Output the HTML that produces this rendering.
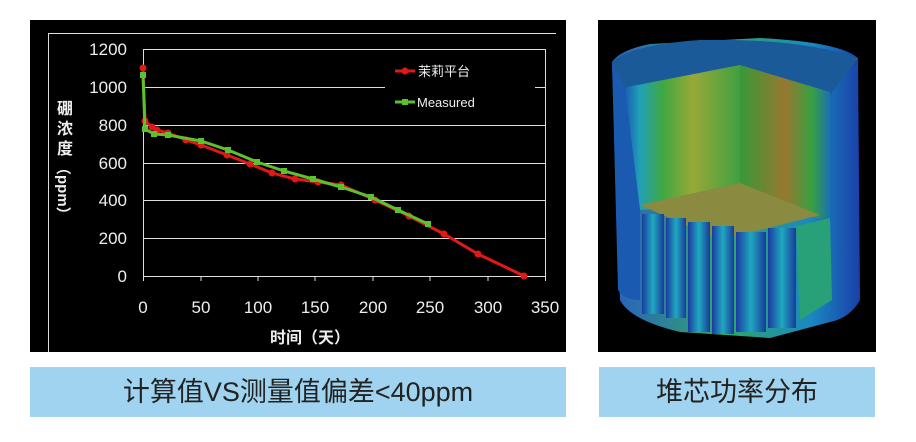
<!DOCTYPE html>
<html><head><meta charset="utf-8"><style>
body{margin:0;width:916px;height:442px;background:#fff;overflow:hidden;font-family:"Liberation Sans","Noto Sans CJK SC",sans-serif;}
.cap{position:absolute;top:367px;height:50px;background:#9fd3ef;color:#222;font-size:27px;line-height:50px;text-align:center;font-family:"Liberation Sans","Noto Sans CJK SC",sans-serif;}
</style></head><body>
<svg width="916" height="442" style="position:absolute;left:0;top:0" font-family="Liberation Sans, Noto Sans CJK SC, sans-serif">
<defs>
<linearGradient id="side" x1="0" x2="1"><stop offset="0" stop-color="#1a50b0"/><stop offset="0.15" stop-color="#20a0b8"/><stop offset="0.35" stop-color="#40a840"/><stop offset="0.6" stop-color="#98a838"/><stop offset="1" stop-color="#40a040"/></linearGradient>
<linearGradient id="back" x1="0" x2="1"><stop offset="0" stop-color="#389838"/><stop offset="0.5" stop-color="#987830"/><stop offset="0.8" stop-color="#38a040"/><stop offset="1" stop-color="#1a70b0"/></linearGradient>
<linearGradient id="right" x1="0" x2="1"><stop offset="0" stop-color="#2a60c0"/><stop offset="0.45" stop-color="#30a868"/><stop offset="0.8" stop-color="#1a88c0"/><stop offset="1" stop-color="#1a40a8"/></linearGradient>
<linearGradient id="col" x1="0" x2="1"><stop offset="0" stop-color="#1a3aa0"/><stop offset="0.5" stop-color="#20a8c0"/><stop offset="1" stop-color="#1a3a98"/></linearGradient>
</defs>
<rect x="30" y="20" width="536" height="332" fill="#000"/>
<line x1="48" y1="33.5" x2="556" y2="33.5" stroke="#ddd" stroke-width="1"/>
<line x1="48.5" y1="33" x2="48.5" y2="352" stroke="#ddd" stroke-width="1"/>
<g stroke="#ddd" stroke-width="1">
<line x1="143" y1="49.5" x2="545" y2="49.5"/>
<line x1="143" y1="87.5" x2="545" y2="87.5"/>
<line x1="143" y1="125.5" x2="545" y2="125.5"/>
<line x1="143" y1="163.5" x2="545" y2="163.5"/>
<line x1="143" y1="200.5" x2="545" y2="200.5"/>
<line x1="143" y1="238.5" x2="545" y2="238.5"/>
<line x1="143" y1="276.5" x2="545" y2="276.5"/>
<line x1="143.5" y1="49" x2="143.5" y2="281"/>
<line x1="545.5" y1="49" x2="545.5" y2="281"/>
<line x1="201" y1="276" x2="201" y2="281"/><line x1="258" y1="276" x2="258" y2="281"/><line x1="315" y1="276" x2="315" y2="281"/><line x1="373" y1="276" x2="373" y2="281"/><line x1="430" y1="276" x2="430" y2="281"/><line x1="488" y1="276" x2="488" y2="281"/>
</g>
<rect x="385" y="55" width="150" height="62" fill="#000"/>
<g fill="#eee" font-size="17" text-anchor="end">
<text x="127" y="55">1200</text><text x="127" y="93">1000</text><text x="127" y="131">800</text><text x="127" y="169">600</text><text x="127" y="206">400</text><text x="127" y="244">200</text><text x="127" y="282">0</text>
</g>
<g fill="#eee" font-size="17" text-anchor="middle">
<text x="143" y="313">0</text><text x="201" y="313">50</text><text x="258" y="313">100</text><text x="315" y="313">150</text><text x="373" y="313">200</text><text x="430" y="313">250</text><text x="488" y="313">300</text><text x="545" y="313">350</text>
</g>
<text x="310" y="343" fill="#eee" font-size="16" font-weight="bold" text-anchor="middle">时间（天）</text>
<g fill="#eee" font-size="16" font-weight="bold" text-anchor="middle">
<text x="65" y="114">硼</text><text x="65" y="134">浓</text><text x="65" y="154">度</text>
</g>
<text transform="translate(58,160) rotate(90)" fill="#eee" font-size="15" font-weight="bold">（ppm）</text>
<polyline fill="none" stroke="#e01818" stroke-width="3" points="143,68 145,121 152,127 157,130 168,133 186,140 201,145 227,155 250,164 272,173 295,179 318,182 341,185 375,200 409,216 444,234 478,254 524,276"/>
<g fill="#e01818">
<circle cx="143" cy="68" r="3.5"/><circle cx="145" cy="121" r="3.5"/><circle cx="152" cy="127" r="3.5"/><circle cx="157" cy="130" r="3.5"/><circle cx="168" cy="133" r="3.5"/><circle cx="186" cy="140" r="3.5"/><circle cx="201" cy="145" r="3.5"/><circle cx="227" cy="155" r="3.5"/><circle cx="250" cy="164" r="3.5"/><circle cx="272" cy="173" r="3.5"/><circle cx="295" cy="179" r="3.5"/><circle cx="318" cy="182" r="3.5"/><circle cx="341" cy="185" r="3.5"/><circle cx="375" cy="200" r="3.5"/><circle cx="409" cy="216" r="3.5"/><circle cx="444" cy="234" r="3.5"/><circle cx="478" cy="254" r="3.5"/><circle cx="524" cy="276" r="3.5"/>
</g>
<polyline fill="none" stroke="#5cc030" stroke-width="3" points="143,75 145,129 154,134 168,135 201,141 228,150 257,162 284,171 313,179 341,187 371,197 398,210 428,224"/>
<g fill="#5cc030">
<rect x="140" y="72" width="6" height="6"/><rect x="142" y="126" width="6" height="6"/><rect x="151" y="131" width="6" height="6"/><rect x="165" y="132" width="6" height="6"/><rect x="198" y="138" width="6" height="6"/><rect x="225" y="147" width="6" height="6"/><rect x="254" y="159" width="6" height="6"/><rect x="281" y="168" width="6" height="6"/><rect x="310" y="176" width="6" height="6"/><rect x="338" y="184" width="6" height="6"/><rect x="368" y="194" width="6" height="6"/><rect x="395" y="207" width="6" height="6"/><rect x="425" y="221" width="6" height="6"/>
</g>
<line x1="395" y1="71" x2="415" y2="71" stroke="#e01818" stroke-width="3"/><circle cx="405" cy="71" r="3.5" fill="#e01818"/>
<text x="418" y="76" fill="#eee" font-size="13">茉莉平台</text>
<line x1="395" y1="102" x2="415" y2="102" stroke="#5cc030" stroke-width="3"/><rect x="402" y="99" width="6" height="6" fill="#5cc030"/>
<text x="417" y="107" fill="#eee" font-size="13">Measured</text>

<rect x="598" y="20" width="278" height="332" fill="#000"/>
<path d="M612,62 Q620,50 650,44 L760,38 Q840,42 858,58 L860,300 Q850,318 830,322 L770,338 L680,332 Q630,320 620,300 Z" fill="url(#right)"/>
<path d="M612,62 Q630,45 700,40 Q800,38 858,58 L830,95 L740,82 L625,88 Z" fill="#1a5a98"/>
<path d="M622,88 L740,65 L740,205 L640,210 Z" fill="url(#side)"/>
<path d="M740,65 L830,92 L830,220 L740,205 Z" fill="url(#back)"/>
<path d="M640,205 L740,183 L820,215 L720,240 Z" fill="#8a8a40"/>
<path d="M612,62 L625,88 L640,210 L640,300 Q625,300 618,290 Z" fill="#1a5ab0"/>
<g fill="url(#col)">
<rect x="642" y="214" width="22" height="100"/><rect x="666" y="218" width="20" height="100"/><rect x="688" y="222" width="22" height="110"/><rect x="712" y="226" width="22" height="108"/><rect x="736" y="232" width="30" height="100"/><rect x="768" y="228" width="28" height="100"/>
</g>
<path d="M796,226 L830,218 L832,300 L800,320 Z" fill="#28a078"/>
</svg>
<div class="cap" style="left:30px;width:536px">计算值VS测量值偏差&lt;40ppm</div>
<div class="cap" style="left:599px;width:276px">堆芯功率分布</div>
</body></html>
